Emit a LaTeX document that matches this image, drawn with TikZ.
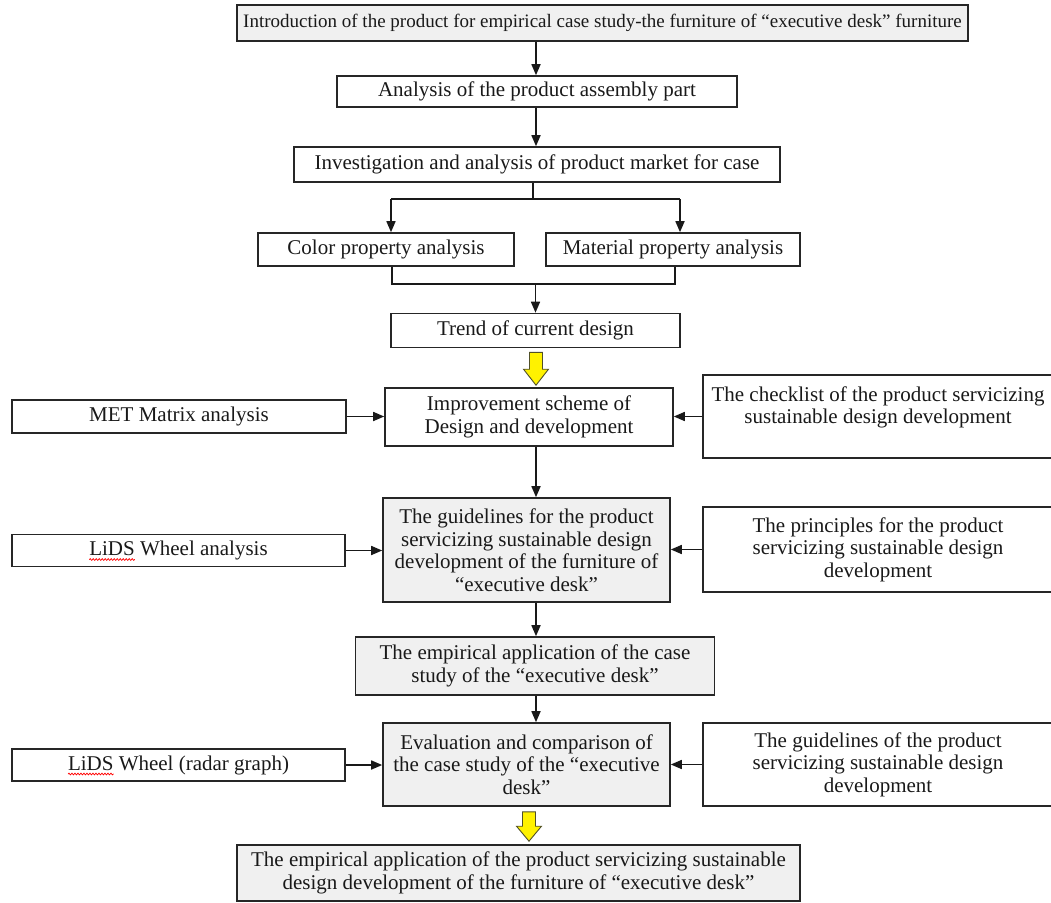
\documentclass[tikz,border=0pt]{standalone}
\usepackage{fontspec}
\setmainfont{Liberation Serif}
\usetikzlibrary{arrows.meta,calc,decorations.pathmorphing}
\definecolor{boxgray}{RGB}{240,240,240}
\definecolor{yedge}{RGB}{80,80,40}
\begin{document}
\begin{tikzpicture}[x=1pt,y=-1pt,
  box/.style={draw=black!85,line width=1.6pt,inner sep=2pt,align=center,text=black!90,
    font=\fontsize{21}{22.5}\selectfont},
  gbox/.style={box,fill=boxgray},
  con/.style={line width=1.6pt,draw=black!90,-{Triangle[length=11pt,width=9pt]}},
  ln/.style={line width=1.6pt,draw=black!90},
  yarrow/.style={fill=yellow,draw=yedge,line width=0.9pt,line join=miter},
  wave/.style={red,line width=0.7pt,decorate,decoration={snake,amplitude=0.9pt,segment length=3pt}}
]
\useasboundingbox (0,0) rectangle (1051,902);
\fontsize{21}{22.5}\selectfont
\coordinate (spine) at (536,0);
\coordinate (tspine) at (536,0);

\node[gbox,minimum width=731,minimum height=36,font=\fontsize{19}{22}\selectfont] (intro) at (602.5,23)
  {Introduction of the product for empirical case study-the furniture of “executive desk” furniture};
\node[box,minimum width=400,minimum height=31] (asm) at (537,91.5) {Analysis of the product assembly part};
\node[box,minimum width=486,minimum height=35] (inv) at (537,164.5) {Investigation and analysis of product market for case};
\node[box,minimum width=256,minimum height=33] (color) at (386,249.5) {Color property analysis};
\node[box,minimum width=254,minimum height=33] (mat) at (673,249.5) {Material property analysis};
\node[box,minimum width=289,minimum height=34] (trend) at (535.5,330.5) {Trend of current design};
\node[box,minimum width=288,minimum height=58] (imp) at (529,417) {Improvement scheme of\\Design and development};
\node[box,minimum width=334,minimum height=33] (met) at (179,416.5) {MET Matrix analysis};
\node[box,minimum width=350,minimum height=83] (chk) at (878,416.5)
  {The checklist of the product servicizing\\sustainable design development\\\mbox{}};
\node[gbox,minimum width=287,minimum height=104] (guide) at (526.5,550)
  {The guidelines for the product\\servicizing sustainable design\\development of the furniture of\\“executive desk”};
\node[box,minimum width=333,minimum height=32] (lw1) at (178.5,550.5) {LiDS Wheel analysis};
\node[box,minimum width=350,minimum height=85] (prin) at (878,549.5)
  {The principles for the product\\servicizing sustainable design\\development};
\node[gbox,minimum width=359,minimum height=58] (emp) at (535,666)
  {The empirical application of the case\\study of the “executive desk”};
\node[gbox,minimum width=287,minimum height=83] (eval) at (526.5,764.5)
  {Evaluation and comparison of\\the case study of the “executive\\desk”};
\node[box,minimum width=333,minimum height=32] (lw2) at (178.5,765) {LiDS Wheel (radar graph)};
\node[box,minimum width=350,minimum height=83] (gof) at (878,764.5)
  {The guidelines of the product\\servicizing sustainable design\\development};
\node[gbox,minimum width=563,minimum height=56] (final) at (518.5,873)
  {The empirical application of the product servicizing sustainable\\design development of the furniture of “executive desk”};

% top chain
\draw[con] (intro.south -| spine) -- (asm.north -| spine);
\draw[con] (asm.south -| spine) -- (inv.north -| spine);
% branch
\coordinate (bl) at (391,199);
\coordinate (brr) at (680,199);
\coordinate (bm) at (533,199);
\draw[ln] (inv.south -| bm) -- (bm);
\draw[ln] (bl) -- (brr);
\draw[con] (bl) -- (bl |- color.north);
\draw[con] (brr) -- (brr |- mat.north);
% join
\coordinate (jl) at (392,284);
\coordinate (jr) at (675,284);
\draw[ln] (jl |- color.south) -- (jl) -- (jr) -- (jr |- mat.south);
\draw[con] (trend.north |- jl) -- (trend.north);
% yellow arrow 1
\path let \p1=($(spine |- trend.south)+(0,4)$), \p2=($(spine |- imp.north)+(0,-2)$) in
  [yarrow] (\x1-6.5pt,\y1) -- (\x1+6.5pt,\y1) -- (\x1+6.5pt,\y2+16pt) -- (\x1+12.5pt,\y2+16pt)
  -- (\x1,\y2) -- (\x1-12.5pt,\y2+16pt) -- (\x1-6.5pt,\y2+16pt) -- cycle;
% side arrows
\draw[con] (met.east) -- (met.east -| imp.west);
\draw[con] (chk.west) -- (chk.west -| imp.east);
\draw[con] (imp.south -| spine) -- (guide.north -| spine);
\draw[con] (lw1.east) -- (lw1.east -| guide.west);
\draw[con] (prin.west) -- (prin.west -| guide.east);
\draw[con] (guide.south -| spine) -- (emp.north -| spine);
\draw[con] (emp.south -| spine) -- (eval.north -| spine);
\draw[con] (lw2.east) -- (lw2.east -| eval.west);
\draw[con] (gof.west) -- (gof.west -| eval.east);
% yellow arrow 2
\path let \p1=($(eval.south)+(2.5,5)$), \p2=($(eval.south |- final.north)+(2.5,-3)$) in
  [yarrow] (\x1-6.5pt,\y1) -- (\x1+6.5pt,\y1) -- (\x1+6.5pt,\y2+15pt) -- (\x1+12.5pt,\y2+15pt)
  -- (\x1,\y2) -- (\x1-12.5pt,\y2+15pt) -- (\x1-6.5pt,\y2+15pt) -- cycle;
% spell-check underline
\pgfmathsetmacro\wA{width("LiDS Wheel analysis")}
\pgfmathsetmacro\wB{width("LiDS Wheel (radar graph)")}
\pgfmathsetmacro\wL{width("LiDS")}
\draw[wave] ($(lw1.base)+(-\wA/2,4)$) -- ++(\wL,0);
\draw[wave] ($(lw2.base)+(-\wB/2,4)$) -- ++(\wL,0);
\end{tikzpicture}
\end{document}
